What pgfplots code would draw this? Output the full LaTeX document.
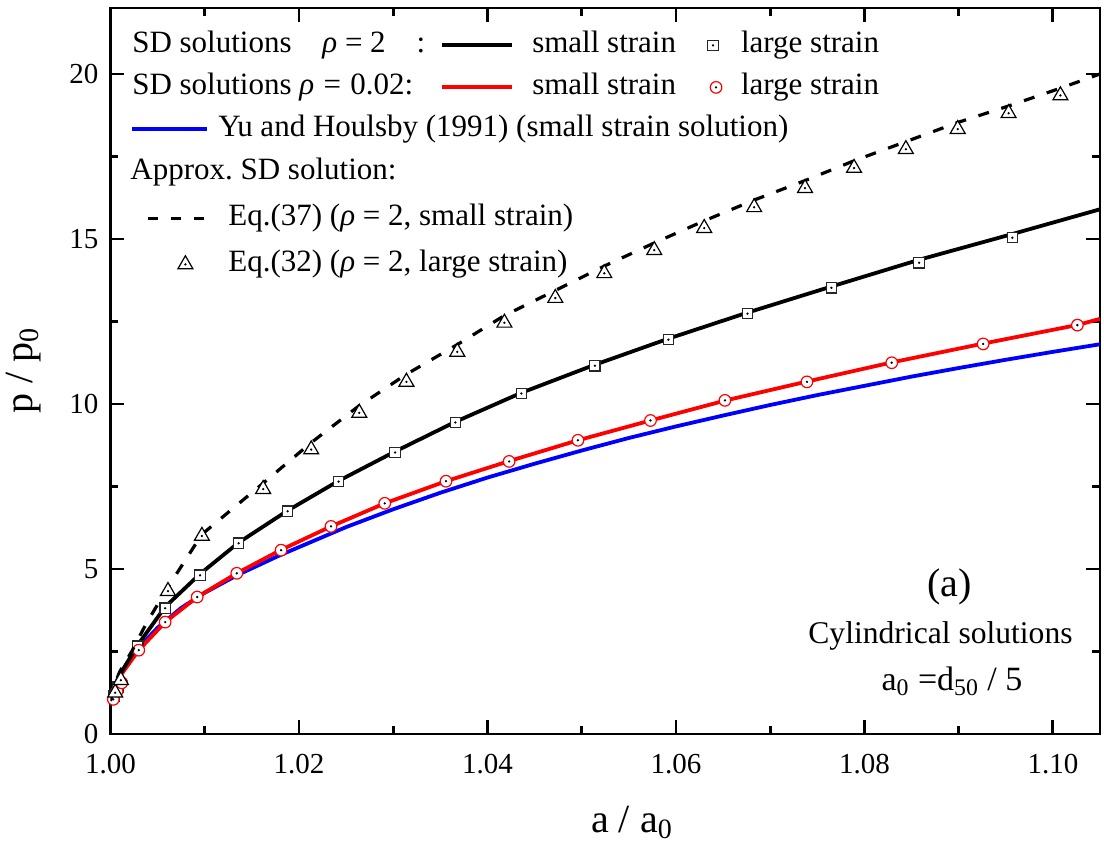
\documentclass[border=0pt]{standalone}
\usepackage{fontspec}
\setmainfont{Liberation Serif}
\usepackage{pgfplots}
\usepackage{pgfplotstable}
\pgfplotsset{compat=1.18}
\frenchspacing

\newcommand{\lgfont}{\fontsize{15.5}{18}\selectfont}

% rho = 2, small strain (SD solution)
\pgfplotstableread{
x y
1.0000 1.00
1.0010 1.80
1.0029 2.70
1.0058 3.85
1.0095 4.85
1.0136 5.80
1.0188 6.77
1.0242 7.67
1.0302 8.56
1.0366 9.46
1.0436 10.34
1.0514 11.19
1.0592 11.98
1.0676 12.77
1.0765 13.56
1.0858 14.37
1.0957 15.15
1.1050 15.90
}\blackline

% rho = 2, large strain
\pgfplotstableread{
x y
1.0004 1.15
1.0008 1.42
1.0029 2.66
1.0058 3.81
1.0095 4.81
1.0136 5.78
1.0188 6.75
1.0242 7.65
1.0302 8.53
1.0366 9.44
1.0436 10.32
1.0514 11.16
1.0592 11.95
1.0676 12.74
1.0765 13.52
1.0858 14.28
1.0957 15.04
}\squares

% rho = 0.02, small strain
\pgfplotstableread{
x y
1.0000 1.00
1.0010 1.75
1.0030 2.54
1.0058 3.39
1.0092 4.15
1.0134 4.87
1.0181 5.58
1.0234 6.29
1.0291 6.99
1.0356 7.66
1.0423 8.27
1.0496 8.90
1.0573 9.50
1.0653 10.11
1.0739 10.68
1.0829 11.26
1.0926 11.83
1.1027 12.40
1.1050 12.58
}\redline

% rho = 0.02, large strain
\pgfplotstableread{
x y
1.0003 1.05
1.0007 1.30
1.0012 1.55
1.0030 2.54
1.0058 3.39
1.0092 4.15
1.0134 4.87
1.0181 5.57
1.0234 6.29
1.0291 6.99
1.0356 7.66
1.0423 8.26
1.0496 8.90
1.0573 9.50
1.0652 10.11
1.0739 10.67
1.0829 11.25
1.0926 11.82
1.1026 12.39
}\circles

% Yu and Houlsby (1991)
\pgfplotstableread{
x y
1.0000 1.00
1.0005 1.50
1.0010 1.80
1.0020 2.25
1.0030 2.62
1.0050 3.22
1.0075 3.82
1.0100 4.28
1.0135 4.82
1.0180 5.42
1.0250 6.27
1.0300 6.81
1.0350 7.31
1.0400 7.77
1.0450 8.19
1.0500 8.59
1.0550 8.97
1.0600 9.32
1.0650 9.65
1.0700 9.97
1.0750 10.27
1.0800 10.55
1.0850 10.83
1.0900 11.09
1.0950 11.34
1.1000 11.58
1.1050 11.81
}\blueline

% Eq.(37)
\pgfplotstableread{
x y
1.0000 1.00
1.0005 1.55
1.0010 1.90
1.00225 2.50
1.0038 3.35
1.0061 4.45
1.0097 6.05
1.0162 7.60
1.0213 8.83
1.0264 9.95
1.0314 10.90
1.0368 11.80
1.0418 12.68
1.0472 13.44
1.0524 14.18
1.0577 14.88
1.0630 15.55
1.0683 16.18
1.0737 16.77
1.0789 17.37
1.0844 17.95
1.0899 18.53
1.0953 19.03
1.1008 19.57
1.1050 20.00
}\dashline

% Eq.(32)
\pgfplotstableread{
x y
1.0005 1.25
1.0011 1.63
1.0061 4.33
1.0097 6.00
1.0162 7.42
1.0213 8.62
1.0264 9.73
1.0314 10.67
1.0368 11.58
1.0418 12.46
1.0472 13.21
1.0524 13.96
1.0577 14.66
1.0630 15.33
1.0683 15.96
1.0737 16.54
1.0789 17.15
1.0844 17.72
1.0899 18.33
1.0953 18.81
1.1008 19.35
}\triangles

\pgfplotsset{
  base/.style={
    width=494.75pt, height=363pt, scale only axis,
    xmin=1, xmax=1.105, ymin=0, ymax=22,
    legend cell align=left,
  },
  lg/.style={
    draw=none, fill=none, inner sep=0pt, font=\lgfont,
    column sep=0pt,
    nodes={inner sep=0pt, text height=11pt, text depth=3.5pt},
    at={(axis description cs:0,1)}, anchor=north west,
  },
}

\begin{document}
\begin{tikzpicture}
\begin{axis}[base, name=main,
  /pgf/number format/assume math mode=true,
  tick align=inside,
  major tick length=7pt, minor tick length=4pt,
  axis line style={line width=1.4pt},
  every tick/.append style={line width=1.4pt, black},
  xtick={1,1.02,1.04,1.06,1.08,1.1},
  minor x tick num=1,
  ytick={0,5,10,15,20},
  minor y tick num=1,
  tick label style={font=\fontsize{14.5}{16}\selectfont},
  xticklabel style={/pgf/number format/.cd, fixed, fixed zerofill, precision=2, /tikz/.cd, yshift=-6.5pt},
  yticklabel style={xshift=-2.5pt},
  xlabel={a / a\textsubscript{0}},
  ylabel={p / p\textsubscript{0}},
  xlabel style={font=\fontsize{20}{24}\selectfont, at={(axis description cs:0.527,-0.135)}, anchor=base},
  ylabel style={font=\fontsize{20}{24}\selectfont, at={(axis description cs:-0.0788,0.5007)}, anchor=base},
  legend columns=3,
  legend style={lg, xshift=9.75pt, yshift=-11.25pt, row sep=6.5pt},
]
\addplot[blue, line width=1.9pt, forget plot] table {\blueline};
\addplot[red, line width=1.9pt, forget plot] table {\redline};
\addplot[black, line width=1.9pt, forget plot] table {\blackline};
\addplot[only marks, mark=square*, mark size=2.6pt, mark options={draw=black!85, fill=white, line width=0.6pt}, forget plot] table {\squares};
\addplot[only marks, mark=*, mark size=0.35pt, mark options={fill=black, draw=none}, forget plot] table {\squares};
\addplot[only marks, mark=*, mark size=2.9pt, mark options={draw=red, fill=white, line width=0.6pt}, forget plot] table {\circles};
\addplot[only marks, mark=*, mark size=0.35pt, mark options={fill=red, draw=none}, forget plot] table {\circles};

% legend rows 1-3
\addlegendimage{empty legend}
\addlegendentry{\hspace*{-42.5pt}\makebox[146.5pt][l]{SD solutions\hspace*{11.5pt} \textit{ρ} = 2\hfill:}}
\addlegendimage{legend image code/.code={\path[draw=none,fill=none] (0pt,0pt) -- (53.5pt,0pt); \draw[black, line width=1.9pt] (8.5pt,0pt) -- (43.5pt,0pt);}}
\addlegendentry{small strain}
\addlegendimage{legend image code/.code={\path[draw=none,fill=none] (0pt,0pt) -- (32.5pt,0pt);
   \path[draw=none] plot[only marks, mark=square*, mark size=2.6pt, mark options={draw=black!85, fill=white, line width=0.6pt}] coordinates {(18.5pt,0pt)};
   \path[draw=none] plot[only marks, mark=*, mark size=0.35pt, mark options={fill=black, draw=none}] coordinates {(18.5pt,0pt)};}}
\addlegendentry{large strain}
\addlegendimage{empty legend}
\addlegendentry{\hspace*{-42.5pt}\makebox[146.5pt][l]{SD solutions \textit{ρ}\hspace{0.3em}=\hspace{0.3em}0.02:\hfill}}
\addlegendimage{legend image code/.code={\path[draw=none,fill=none] (0pt,0pt) -- (53.5pt,0pt); \draw[red, line width=1.9pt] (8.5pt,0pt) -- (43.5pt,0pt);}}
\addlegendentry{small strain}
\addlegendimage{legend image code/.code={\path[draw=none,fill=none] (0pt,0pt) -- (32.5pt,0pt);
   \path[draw=none] plot[only marks, mark=*, mark size=2.9pt, mark options={draw=red, fill=white, line width=0.6pt}] coordinates {(20pt,0pt)};
   \path[draw=none] plot[only marks, mark=*, mark size=0.35pt, mark options={fill=red, draw=none}] coordinates {(20pt,0pt)};}}
\addlegendentry{large strain}
\addlegendimage{legend image code/.code={\path[draw=none,fill=none] (0pt,0pt) -- (42.5pt,0pt); \draw[blue, line width=1.9pt] (0pt,0pt) -- (37.5pt,0pt);}}
\addlegendentry{\makebox[0pt][l]{Yu and Houlsby (1991) (small strain solution)}}
\addlegendimage{empty legend}
\addlegendentry{}
\addlegendimage{empty legend}
\addlegendentry{}

\node[font=\fontsize{20}{24}\selectfont, anchor=base] at (axis description cs:0.848,0.1887) {(a)};
\node[font=\fontsize{15.8}{19}\selectfont, anchor=base] at (axis description cs:0.8388,0.1253) {Cylindrical solutions};
\node[font=\fontsize{17}{20}\selectfont, anchor=base] at (axis description cs:0.8504,0.0606) {a\textsubscript{0} =d\textsubscript{50} / 5};
\end{axis}

\begin{axis}[base, hide axis,
  legend columns=1,
  legend style={lg, xshift=9.75pt, yshift=-74.75pt, row sep=8.5pt},
]
\addplot[black, line width=1.6pt, dash pattern=on 5.5pt off 6.5pt, forget plot] table {\dashline};
\addplot[only marks, mark=triangle*, mark size=4.3pt, mark options={draw=black, fill=white, line width=0.6pt}, forget plot] table {\triangles};
\addplot[only marks, mark=*, mark size=0.35pt, mark options={fill=black, draw=none}, forget plot] table {\triangles};

\addlegendimage{empty legend}
\addlegendentry{\hspace*{-49pt}Approx. SD solution:}
\addlegendimage{legend image code/.code={\path[draw=none,fill=none] (0pt,0pt) -- (49pt,0pt); \draw[black, line width=1.6pt, dash pattern=on 5pt off 6.5pt] (9pt,0pt) -- (37pt,0pt);}}
\addlegendentry{Eq.(37) (\textit{ρ} = 2, small strain)}
\addlegendimage{legend image code/.code={\path[draw=none,fill=none] (0pt,0pt) -- (49pt,0pt);
   \path[draw=none] plot[only marks, mark=triangle*, mark size=4.3pt, mark options={draw=black, fill=white, line width=0.6pt}] coordinates {(27.5pt,0pt)};
   \path[draw=none] plot[only marks, mark=*, mark size=0.35pt, mark options={fill=black, draw=none}] coordinates {(27.5pt,0pt)};}}
\addlegendentry{Eq.(32) (\textit{ρ} = 2, large strain)}
\end{axis}

\pgfresetboundingbox
\path[use as bounding box] ([xshift=-55.25pt,yshift=-58pt]main.south west) rectangle ([xshift=2pt,yshift=4pt]main.north east);
\end{tikzpicture}
\end{document}
